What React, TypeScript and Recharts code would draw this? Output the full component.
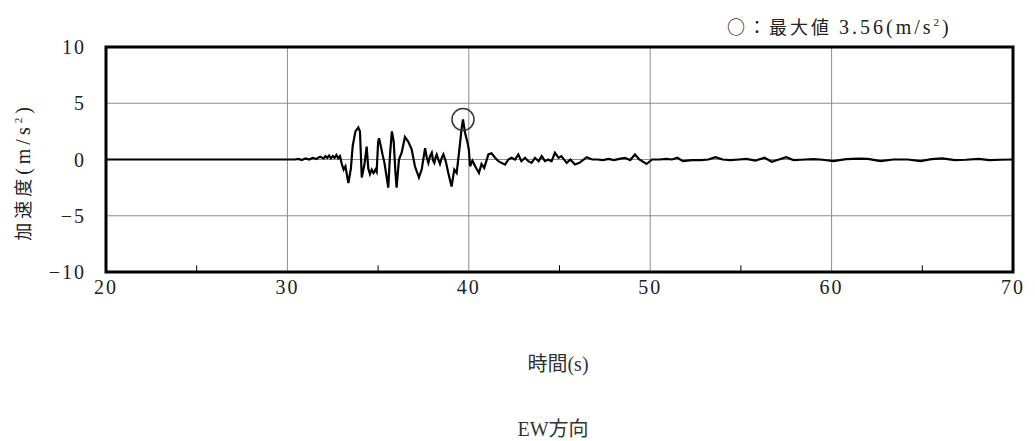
import React from "react"
import { LineChart, Line, XAxis, YAxis, CartesianGrid, ReferenceArea, ReferenceDot, ReferenceLine } from "recharts"

// 時間 (s)
const times = [
  20, 30.4, 30.6, 30.8, 31.0, 31.2, 31.4, 31.6, 31.8, 32.0, 32.1, 32.2, 32.3, 32.4, 32.5, 32.6, 32.7, 32.8, 32.9,
  33.0, 33.1, 33.2, 33.36, 33.5, 33.6, 33.75, 33.91, 34.0, 34.1, 34.25, 34.37, 34.46, 34.55, 34.65, 34.75, 34.85, 34.92,
  35.0, 35.05, 35.15, 35.25, 35.35, 35.56, 35.66, 35.76, 35.86, 35.95, 36.02, 36.15, 36.3, 36.48, 36.66, 36.85, 37.03,
  37.25, 37.4, 37.59, 37.68, 37.77, 37.86, 37.96, 38.03, 38.1, 38.17, 38.23, 38.32, 38.41, 38.5, 38.6, 38.73, 38.87,
  39.05, 39.2, 39.33, 39.46, 39.6, 39.68,
  39.79, 39.93, 40.0, 40.07, 40.2, 40.35, 40.56, 40.7, 40.85, 41.08, 41.25, 41.45, 41.63, 41.8, 42.0, 42.18, 42.35,
  42.55, 42.73, 42.9, 43.1, 43.28, 43.46, 43.65, 43.85, 44.02, 44.2, 44.38, 44.56, 44.75, 44.95, 45.1, 45.4, 45.6,
  45.85, 46.1, 46.5, 46.8, 47.1, 47.4, 47.7, 48.0, 48.3, 48.6, 48.9, 49.16, 49.4, 49.8, 50.1, 50.5, 50.9, 51.2, 51.5,
  51.8, 52.3, 52.8, 53.2, 53.6, 54.0, 54.4, 54.9, 55.3, 55.8, 56.3, 56.7, 57.1, 57.5, 57.9, 58.3, 59.0, 59.5, 60.1,
  60.8, 61.5, 62.0, 62.7, 63.4, 64.2, 64.9, 65.5, 66.1, 66.8, 67.4, 68.1, 68.7, 69.3, 70,
]

// 加速度 (m/s²)
const accel = [
  0, 0, 0.05, -0.05, 0.1, 0.0, 0.15, 0.05, 0.25, 0.1, 0.3, 0.15, 0.35, 0.1, 0.3, 0.15, 0.4, 0.1, 0.3,
  -0.4, -0.9, -0.6, -2.1, -0.8, 1.2, 2.5, 2.85, 2.5, -1.6, -0.4, 1.15, -0.8, -1.3, -0.9, -1.2, -0.9, -1.1,
  1.5, 1.9, 1.2, 0.4, -0.3, -2.5, 0.5, 2.5, 1.6, -1.0, -2.5, 0.0, 0.6, 2.0, 1.6, 0.9, -0.6,
  -1.6, -0.9, 1.0, 0.2, -0.3, 0.3, 0.6, -0.1, -0.3, 0.2, 0.45, 0.0, -0.4, 0.1, 0.45, -0.15, -1.2,
  -2.4, -0.9, -1.2, 0.6, 2.7, 3.56,
  2.4, 1.5, 0.9, -0.6, -0.1, -0.6, -1.2, -0.4, -0.75, 0.45, 0.55, 0.15, -0.15, -0.3, -0.45, 0, 0.15,
  0, 0.45, -0.15, 0.15, -0.15, -0.3, 0.15, -0.15, 0.3, -0.15, 0, -0.15, 0.6, 0.15, 0.3, -0.3, 0,
  -0.45, -0.3, 0.2, 0, 0, -0.05, 0.05, -0.05, 0.05, 0.15, -0.05, 0.45, 0, -0.4, 0, 0, 0.05, 0, 0.15,
  -0.15, -0.05, -0.05, 0, 0.2, 0, -0.05, 0, 0.05, -0.1, 0.15, -0.2, 0, 0.2, -0.05, -0.02, 0.03, -0.02, -0.15,
  0.03, 0.07, 0.05, -0.15, 0, 0, -0.15, 0.03, 0.1, -0.05, -0.02, 0.05, -0.05, -0.02, 0,
]

const xTicks = [20, 30, 40, 50, 60, 70]
const xMinorTicks = [25, 35, 45, 55, 65]
const yTicks = [-10, -5, 0, 5, 10]
const peak = { t: 39.68, a: 3.56 }

const data = times.map((t, i) => ({ t, a: accel[i] }))

const serif = "Liberation Serif"
const jp = "Noto Sans CJK JP"

// axis tick text with the font set as a style, so nothing overrides it
function Tick(props: any) {
  const { x, y, payload, textAnchor, axis } = props
  const v = payload.value as number
  const label = v < 0 ? `−${Math.abs(v)}` : `${v}`
  return (
    <text
      x={x}
      y={y}
      dy={axis === "x" ? 16 : 7}
      textAnchor={textAnchor}
      fill="#222"
      style={{ fontFamily: serif, fontSize: 20, letterSpacing: 2 }}
    >
      {label}
    </text>
  )
}

export default function App() {
  return (
    <div style={{ position: "absolute", left: 0, top: 0, width: 1035, height: 441, background: "#fff", fontFamily: serif }}>
      <LineChart width={1035} height={441} data={data} margin={{ top: 47, right: 22, left: 46, bottom: 139 }}>
        <CartesianGrid stroke="#8c8c8c" strokeWidth={1} />
        <XAxis
          dataKey="t"
          type="number"
          domain={[20, 70]}
          ticks={xTicks}
          height={30}
          axisLine={false}
          tickLine={false}
          tick={(p: any) => <Tick {...p} axis="x" />}
          tickMargin={0}
        />
        <YAxis
          type="number"
          domain={[-10, 10]}
          ticks={yTicks}
          width={60}
          axisLine={false}
          tickLine={false}
          tick={(p: any) => <Tick {...p} axis="y" />}
          tickMargin={14}
        />
        {xMinorTicks.map((m) => (
          <ReferenceLine key={m} segment={[{ x: m, y: -10 }, { x: m, y: -9.4 }]} stroke="#000" strokeWidth={1} />
        ))}
        <Line dataKey="a" type="linear" stroke="#000" strokeWidth={2.2} dot={false} isAnimationActive={false} />
        <ReferenceDot x={peak.t} y={peak.a} r={11} fill="none" stroke="#333" strokeWidth={1.5} />
        <ReferenceArea x1={20} x2={70} y1={-10} y2={10} fill="none" stroke="#000" strokeWidth={3} />
      </LineChart>

      <div style={{ position: "absolute", left: 727, top: 10, fontSize: 18, fontFamily: jp, color: "#222", letterSpacing: 3, whiteSpace: "nowrap", lineHeight: "24px" }}>
        ○：最大値 <span style={{ fontFamily: serif, fontSize: 20 }}>3.56(m/s<sup style={{ fontSize: 11 }}>2</sup>)</span>
      </div>

      <div
        style={{
          position: "absolute",
          left: 22,
          top: 172,
          transform: "translate(-50%, -50%) rotate(-90deg)",
          fontSize: 18,
          fontFamily: jp,
          color: "#222",
          letterSpacing: 4,
          whiteSpace: "nowrap",
        }}
      >
        加速度<span style={{ fontFamily: serif, fontSize: 20 }}>(m/s<sup style={{ fontSize: 11 }}>2</sup>)</span>
      </div>

      <div style={{ position: "absolute", left: 558, top: 362, transform: "translate(-50%, -50%)", fontSize: 20, fontFamily: jp, color: "#333", whiteSpace: "nowrap" }}>
        時間<span style={{ fontFamily: serif }}>(s)</span>
      </div>

      <div style={{ position: "absolute", left: 553, top: 427, transform: "translate(-50%, -50%)", fontSize: 20, fontFamily: jp, color: "#333", whiteSpace: "nowrap" }}>
        <span style={{ fontFamily: serif }}>EW</span>方向
      </div>
    </div>
  )
}
